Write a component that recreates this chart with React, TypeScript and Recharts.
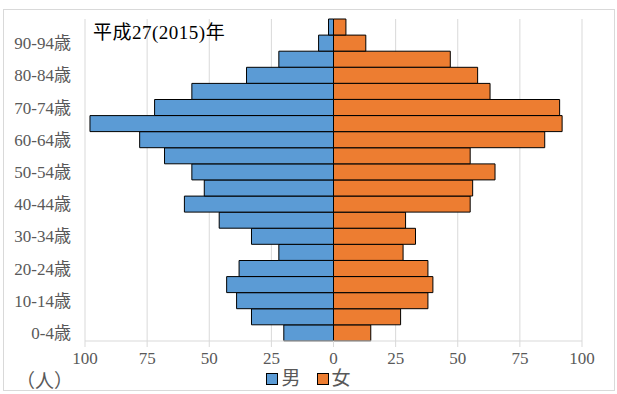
import { Bar, BarChart, CartesianGrid, XAxis, YAxis } from "recharts";

// 年齢階級（下から上）
const ages = [
  "0-4歳", "5-9歳", "10-14歳", "15-19歳", "20-24歳", "25-29歳", "30-34歳",
  "35-39歳", "40-44歳", "45-49歳", "50-54歳", "55-59歳", "60-64歳", "65-69歳",
  "70-74歳", "75-79歳", "80-84歳", "85-89歳", "90-94歳", "95歳以上"
];
const male = [20, 33, 39, 43, 38, 22, 33, 46, 60, 52, 57, 68, 78, 98, 72, 57, 35, 22, 6, 2];
const female = [15, 27, 38, 40, 38, 28, 33, 29, 55, 56, 65, 55, 85, 92, 91, 63, 58, 47, 13, 5];
const xTicks = [-100, -75, -50, -25, 0, 25, 50, 75, 100];

const data = ages.map((age, i) => ({ age, male: -male[i], female: female[i] }));

const font = '"Liberation Serif", "Noto Sans CJK JP", serif';
const grey = "#595959";

function LegendBox() {
  const item = (color: string, text: string) => (
    <span style={{ display: "inline-flex", alignItems: "center", margin: "0 8px", lineHeight: "20px" }}>
      <span style={{ width: 10, height: 10, background: color, border: "1px solid #000", marginRight: 3 }} />
      <span style={{ fontSize: 19, color: grey, fontFamily: font }}>{text}</span>
    </span>
  );
  return (
    <div style={{ position: "absolute", left: 0, width: 617, top: 369, display: "flex", justifyContent: "center" }}>
      {item("#5b9bd5", "男")}
      {item("#ed7d31", "女")}
    </div>
  );
}

export default function App() {
  return (
    <div style={{ position: "absolute", left: 0, top: 0, width: 617, height: 394, background: "#fff", fontFamily: font }}>
      <div style={{ position: "absolute", left: 3, top: 9, width: 610, height: 380, border: "1px solid #d9d9d9" }} />
      <BarChart
        width={617}
        height={394}
        data={data}
        layout="vertical"
        stackOffset="sign"
        barCategoryGap={0}
        margin={{ top: 19, right: 35, bottom: 23, left: 0 }}
      >
        <CartesianGrid horizontal={false} stroke="#d9d9d9" />
        <XAxis
          type="number"
          domain={[-100, 100]}
          ticks={xTicks}
          tickFormatter={(v: number) => String(Math.abs(v))}
          stroke="#d9d9d9"
          tickSize={6}
          height={30}
          tick={{ fill: grey, fontSize: 17, fontFamily: font, dy: 3 }}
        />
        <YAxis
          type="category"
          dataKey="age"
          reversed
          interval={1}
          width={85}
          axisLine={false}
          tickLine={false}
          tick={{ fill: grey, fontSize: 17, fontFamily: font, dx: -6 }}
        />
        <Bar dataKey="male" name="男" stackId="a" fill="#5b9bd5" stroke="#000" strokeWidth={1} isAnimationActive={false} />
        <Bar dataKey="female" name="女" stackId="a" fill="#ed7d31" stroke="#000" strokeWidth={1} isAnimationActive={false} />
      </BarChart>
      <LegendBox />
      <div style={{ position: "absolute", left: 93, top: 17, fontSize: 19, letterSpacing: 0.5, color: "#000", fontFamily: font }}>
        平成27(2015)年
      </div>
      <div style={{ position: "absolute", left: 16, top: 366, fontSize: 19, color: grey, fontFamily: font }}>
        （人）
      </div>
    </div>
  );
}
